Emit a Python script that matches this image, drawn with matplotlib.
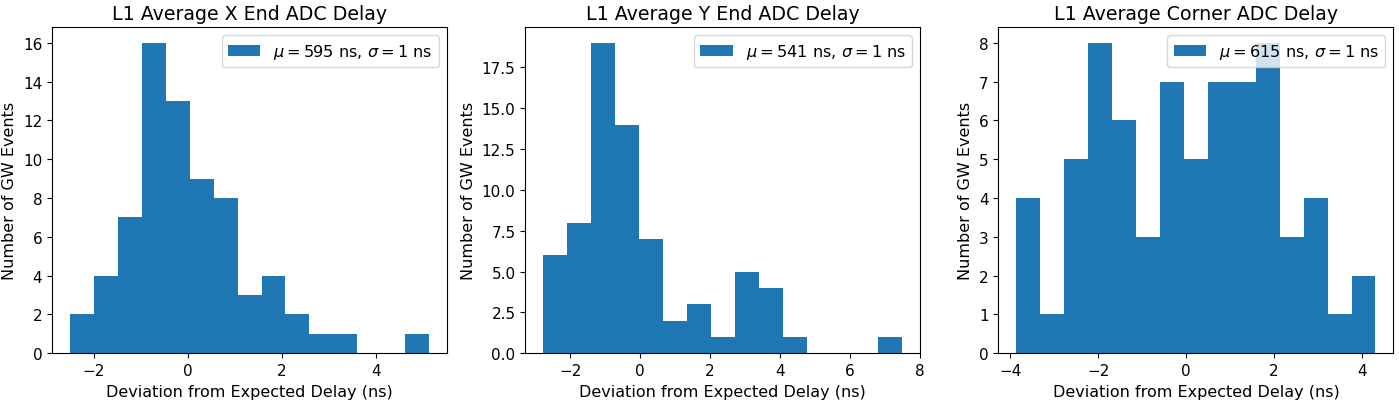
import numpy as np
import matplotlib
matplotlib.use("Agg")
import matplotlib.pyplot as plt

# histogram counts (15 bins each)
titles = ["L1 Average X End ADC Delay", "L1 Average Y End ADC Delay", "L1 Average Corner ADC Delay"]
counts_x = [2, 4, 7, 16, 13, 9, 8, 3, 4, 2, 1, 1, 0, 0, 1]
counts_y = [6, 8, 19, 14, 7, 2, 3, 1, 5, 4, 1, 0, 0, 0, 1]
counts_c = [4, 1, 5, 8, 6, 3, 7, 5, 7, 7, 8, 3, 4, 1, 2]
ranges = [(-2.5, 5.12), (-2.77, 7.5), (-3.86, 4.31)]
means = [595, 541, 615]
sigmas = [1, 1, 1]

plt.rcParams["font.size"] = 11

fig, axes = plt.subplots(1, 3, figsize=(13.99, 4.02), dpi=100)
fig.subplots_adjust(left=0.0372, right=0.996, top=0.9296, bottom=0.1187, wspace=0.198)

for ax, title, counts, rng, mu, sig in zip(axes, titles, [counts_x, counts_y, counts_c], ranges, means, sigmas):
    edges = np.linspace(rng[0], rng[1], len(counts) + 1)
    ax.hist(edges[:-1], bins=edges, weights=counts, color="#1f77b4",
            label=r"$\mu = %d$ ns, $\sigma = %d$ ns" % (mu, sig))
    ax.set_title(title, fontsize=13.7)
    ax.set_xlabel("Deviation from Expected Delay (ns)", fontsize=11.5)
    ax.set_ylabel("Number of GW Events", fontsize=11.5)
    ax.tick_params(labelsize=11)
    ax.legend(loc="upper right", fontsize=11.6)

fig.savefig("out.png", dpi=100)
